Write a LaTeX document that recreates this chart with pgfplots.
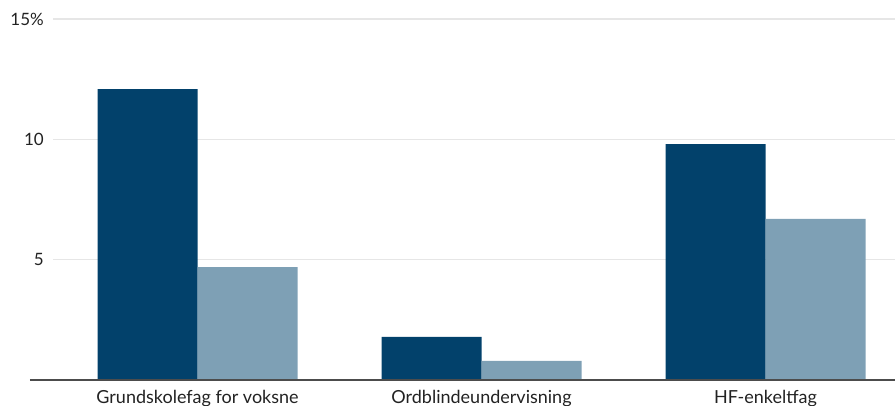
\documentclass[border=0pt]{standalone}
\usepackage{pgfplots}
\pgfplotsset{compat=1.18}
\usepackage{fontspec}
\setmainfont{Lato}
\definecolor{darkb}{HTML}{02416B}
\definecolor{lightb}{HTML}{7EA0B5}
\definecolor{gridc}{HTML}{E6E6E6}
\definecolor{txt}{HTML}{222222}
\begin{document}
\begin{tikzpicture}
\begin{axis}[
  scale only axis, width=842pt, height=361pt,
  xmin=-0.509, xmax=2.456, ymin=0, ymax=15,
  ybar=0pt, bar width=100pt,
  axis line style={draw=none},
  major tick length=0pt,
  ymajorgrids, grid style={gridc, line width=1.5pt},
  ytick={5,10,15}, yticklabels={5,10,15\%},
  xtick={0,1,2},
  xticklabels={Grundskolefag for voksne,Ordblindeundervisning,HF-enkeltfag},
  /pgf/number format/assume math mode=true,
  tick label style={font=\fontsize{17}{20}\selectfont, text=txt},
  yticklabel style={anchor=east, inner sep=0pt, xshift=-9pt},
  xticklabel style={anchor=north, inner sep=0pt, yshift=-10pt, font=\fontsize{18}{21}\selectfont},
  clip=false,
]
\addplot[fill=darkb, draw=none] coordinates {(0,12.09) (1,1.79) (2,9.80)};
\addplot[fill=lightb, draw=none] coordinates {(0,4.69) (1,0.79) (2,6.69)};
\draw[color=black!70, line width=1.2pt] (axis cs:-0.59,0) -- (axis cs:2.456,0);
\end{axis}
\pgfresetboundingbox
\path (current axis.south west) ++(-53pt,-25pt) rectangle ++(895pt,405pt);
\end{tikzpicture}
\end{document}
